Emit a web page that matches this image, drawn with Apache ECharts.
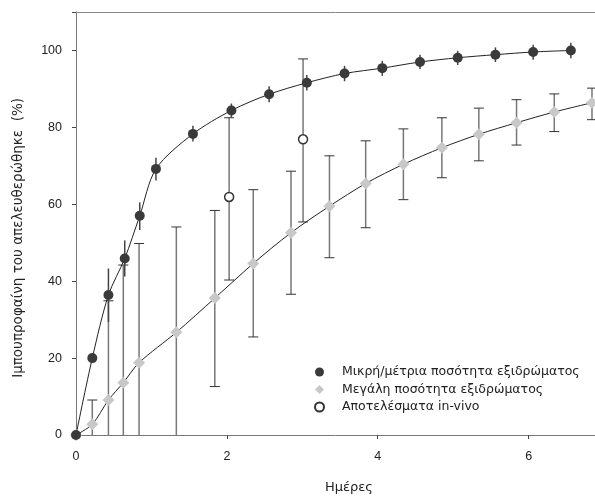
<!DOCTYPE html>
<html>
<head>
<meta charset="utf-8">
<script src="https://cdn.jsdelivr.net/npm/echarts@6/dist/echarts.min.js"></script>
<style>
  html, body { margin: 0; padding: 0; background: #fff; }
  #chart { width: 595px; height: 496px; }
</style>
</head>
<body>
<div id="chart"></div>
<script>
// values
var darkX = [0, 0.216, 0.43, 0.646, 0.845, 1.06, 1.55, 2.06, 2.56, 3.06, 3.56, 4.06, 4.56, 5.06, 5.56, 6.06, 6.56];
var darkY = [0, 20, 36.4, 45.9, 57, 69.2, 78.3, 84.4, 88.6, 91.6, 94, 95.4, 97, 98.1, 98.9, 99.6, 100];
var darkLo = [0, 20, 29.4, 41.2, 53.3, 66.2, 76.3, 82.6, 86.5, 89.6, 92, 93.4, 95.2, 96.2, 97, 97.6, 98];
var darkHi = [0, 20, 43.3, 50.6, 60.5, 72.1, 80.4, 86.2, 90.7, 93.6, 96, 97.3, 98.9, 99.9, 100.8, 101.5, 102];

var lightX = [0, 0.216, 0.43, 0.627, 0.836, 1.33, 1.84, 2.35, 2.85, 3.36, 3.84, 4.34, 4.85, 5.34, 5.84, 6.34, 6.84];
var lightY = [0, 2.8, 9.1, 13.6, 18.8, 26.7, 35.6, 44.6, 52.6, 59.5, 65.4, 70.4, 74.7, 78.2, 81.2, 84.0, 86.4];
var lightLo = [0, 0, 0, 0, 0, 0, 12.6, 25.5, 36.6, 46.1, 53.9, 61.2, 66.9, 71.3, 75.4, 78.9, 82.0];
var lightHi = [0, 9.1, 34.9, 44.2, 49.8, 54.1, 58.4, 63.8, 68.6, 72.6, 76.5, 79.6, 82.5, 85.0, 87.2, 88.7, 90.2];

var vivoX = [2.03, 3.01];
var vivoY = [61.9, 76.9];
var vivoLo = [40.3, 55.4];
var vivoHi = [82.5, 97.8];

var names = ['Μικρή/μέτρια ποσότητα εξιδρώματος', 'Μεγάλη ποσότητα εξιδρώματος', 'Αποτελέσματα in-vivo'];
var xTitle = 'Ημέρες';
var yTitle = 'Ιμπουπροφαίνη του απελευθερώθηκε  (%)';
var yTicks = [0, 20, 40, 60, 80, 100];

function pairs(xs, ys) {
    return xs.map(function (x, i) { return [x, ys[i]]; });
}
function triples(xs, lo, hi) {
    var out = [];
    xs.forEach(function (x, i) {
        if (hi[i] > lo[i]) out.push([x, lo[i], hi[i]]);
    });
    return out;
}

function errorBars(opts) {
    return function (params, api) {
        var x = api.value(0), lo = api.value(1), hi = api.value(2);
        var a = api.coord([x, lo]), b = api.coord([x, hi]);
        var kids = [{
            type: 'line',
            shape: {x1: a[0], y1: a[1], x2: b[0], y2: b[1]},
            style: {stroke: opts.color, lineWidth: opts.width}
        }];
        if (opts.cap) {
            kids.push({
                type: 'line',
                shape: {x1: b[0] - 5, y1: b[1], x2: b[0] + 5, y2: b[1]},
                style: {stroke: '#333', lineWidth: 1}
            });
            if (lo > 0) {
                kids.push({
                    type: 'line',
                    shape: {x1: a[0] - 5, y1: a[1], x2: a[0] + 5, y2: a[1]},
                    style: {stroke: '#333', lineWidth: 1}
                });
            }
        }
        return {type: 'group', children: kids};
    };
}

var font = "'Liberation Sans', Arial, sans-serif";
var wide = "'DejaVu Sans', sans-serif";
var chart = echarts.init(document.getElementById('chart'));

var option = {
    animation: false,
    textStyle: {fontFamily: font},
    grid: {left: 76, right: 0, top: 12, bottom: 61},
    graphic: [{
        type: 'text',
        left: 11,
        top: 98,
        style: {text: yTitle, fontSize: 13.5, fontFamily: wide, fill: '#222'},
        rotation: Math.PI / 2,
        originX: 0, originY: 0
    }, {
        type: 'text',
        left: 325,
        top: 481,
        style: {text: xTitle, fontSize: 13, fontFamily: wide, fill: '#222'}
    }],
    legend: {
        data: names,
        orient: 'vertical',
        left: 309,
        top: 360,
        itemWidth: 9,
        itemHeight: 9,
        itemGap: 3.5,
        textStyle: {fontSize: 12.5, lineHeight: 14, color: '#222', fontFamily: wide, padding: [0, 0, 0, 13]}
    },
    xAxis: [{
        type: 'value',
        min: 0,
        max: 6.88,
        interval: 2,
        axisLine: {lineStyle: {color: '#777', width: 1}},
        axisTick: {length: 4, lineStyle: {color: '#444'}},
        axisLabel: {fontSize: 12.5, color: '#222', margin: 15, showMaxLabel: false},
        splitLine: {show: false}
    }, {
        type: 'value',
        position: 'top',
        min: 0,
        max: 6.88,
        axisLine: {show: true, lineStyle: {color: '#888', width: 1}},
        axisTick: {show: false},
        axisLabel: {show: false},
        splitLine: {show: false}
    }],
    yAxis: {
        type: 'value',
        min: 0,
        max: 110,
        interval: 20,
        axisLine: {show: true, lineStyle: {color: '#777', width: 1}},
        axisTick: {show: true, length: 4, lineStyle: {color: '#444'}},
        axisLabel: {
            fontSize: 12.5, color: '#222', margin: 14,
            formatter: function (v) { return yTicks.indexOf(v) >= 0 ? v : ''; }
        },
        splitLine: {show: false}
    },
    series: [
        {
            type: 'custom',
            renderItem: errorBars({color: '#777', width: 1.5, cap: true}),
            data: triples(lightX, lightLo, lightHi),
            encode: {x: 0, y: [1, 2]},
            z: 1,
            silent: true
        },
        {
            type: 'custom',
            renderItem: errorBars({color: '#777', width: 1.5, cap: true}),
            data: triples(vivoX, vivoLo, vivoHi),
            encode: {x: 0, y: [1, 2]},
            z: 1,
            silent: true
        },
        {
            type: 'custom',
            renderItem: errorBars({color: '#444', width: 1.5, cap: false}),
            data: triples(darkX, darkLo, darkHi),
            encode: {x: 0, y: [1, 2]},
            z: 1,
            silent: true
        },
        {
            type: 'line',
            data: pairs(lightX, lightY),
            smooth: 0.3,
            showSymbol: false,
            lineStyle: {color: '#222', width: 1},
            z: 2,
            silent: true
        },
        {
            type: 'line',
            data: pairs(darkX, darkY),
            smooth: 0.3,
            showSymbol: false,
            lineStyle: {color: '#222', width: 1},
            z: 2,
            silent: true
        },
        {
            name: names[0],
            type: 'scatter',
            data: pairs(darkX, darkY),
            symbol: 'circle',
            symbolSize: 10,
            itemStyle: {color: '#3a3a3a', opacity: 1},
            z: 5
        },
        {
            name: names[1],
            type: 'scatter',
            data: pairs(lightX, lightY),
            symbol: 'diamond',
            symbolSize: 12,
            itemStyle: {color: '#c8c8c8', opacity: 1},
            z: 4
        },
        {
            name: names[2],
            type: 'scatter',
            data: pairs(vivoX, vivoY),
            symbol: 'circle',
            symbolSize: 9,
            itemStyle: {color: '#fff', borderColor: '#333', borderWidth: 1.5, opacity: 1},
            z: 5
        }
    ]
};

chart.setOption(option);
window.addEventListener('resize', chart.resize, false);
</script>
</body>
</html>
